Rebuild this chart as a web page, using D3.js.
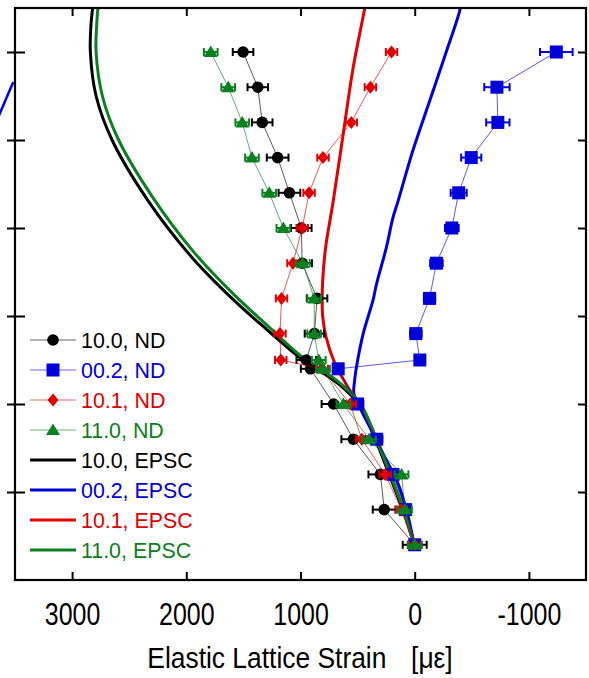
<!DOCTYPE html>
<html><head><meta charset="utf-8">
<script src="https://cdn.jsdelivr.net/npm/d3@7"></script>
<style>body{margin:0;background:#fff}svg{display:block}</style>
</head><body><svg id="c" width="589" height="678"></svg>
<script>
// ---------- DATA ----------
const stressND = [20,40,60,80,100,120,125,140,160,180,200,220,240,260,280,300];
const nd100 = [0,267,300,537,710,912,950,878,855,985,993,1097,1200,1335,1374,1503];
const nd002 = [0,80,190,333,500,670,-45,-10,-130,-190,-325,-385,-495,-728,-720,-1240];
const nd101 = [0,117,258,463,565,810,1173,1180,1166,1066,985,925,803,555,388,203];
const nd110 = [0,86,115,400,625,803,840,880,880,980,1150,1274,1425,1510,1633,1786];
const err100 = [105,100,105,105,105,85,85,85,90,85,90,95,95,90,90,90];
const err002 = [60,50,50,50,50,40,40,50,50,55,60,70,88,102,111,143];
const err101 = [50,50,50,50,50,50,50,50,50,50,50,50,50,50,50,50];
const err110 = [60,60,60,60,60,60,60,60,60,60,60,60,60,60,60,60];

const epsc100 = [[0,19],[95,38],[230,61],[345,80],[480,99],[640,110],[810,118],[1000,126],[1290,142],[1600,160],[1960,184],[2340,216],[2650,250],[2790,275],[2840,300],[2835,315],[2815,328]];
const epsc002 = [[0,19],[73,40],[147,55],[263,70],[394,87],[496,100],[533,106],[525,114],[510,121],[451,140],[365,159],[335,168],[248,189],[190,206],[147,215],[16,244],[-130,272],[-276,300],[-392,323],[-405,328]];
const epsc101 = [[0,19],[88,38],[219,61],[335,80],[466,99],[560,107],[655,117.5],[699,123],[776,138],[806,150],[810,159],[806,170],[780,189],[714,215],[627,253],[539,291],[443,323],[430,328]];
const epsc110 = [[0,19],[88,38],[219,61],[335,80],[466,99],[620,110],[801,119],[1000,127.5],[1280,144],[1580,162],[1930,186],[2300,218],[2600,251],[2735,275],[2790,300],[2785,315],[2770,328]];
// fragment of the neighbouring panel visible at the far left
const neighbour002 = [[3660,261],[3515,283]];

const xTicks = [3000,2000,1000,0,-1000];
const yTicks = [50,100,150,200,250,300];
const legendLabels = ["10.0, ND","00.2, ND","10.1, ND","11.0, ND","10.0, EPSC","00.2, EPSC","10.1, EPSC","11.0, EPSC"];

// ---------- SETUP ----------
const C = {k:"#000000", b:"#0000D8", r:"#E00000", g:"#0A8020"};
const svg = d3.select("#c");
const L=15,R=586,T=8,B=580;
const x = d3.scaleLinear().domain([3500,-1500]).range([L,R]);
const y = d3.scaleLinear().domain([0,325]).range([B,T]);
const FONT = "'Liberation Sans', Arial, sans-serif";

svg.append("defs").append("clipPath").attr("id","clip")
  .append("rect").attr("x",L).attr("y",T).attr("width",R-L).attr("height",B-T);

svg.append("path").datum(neighbour002)
  .attr("d", d3.line().x(d=>x(d[0])).y(d=>y(d[1])))
  .attr("fill","none").attr("stroke",C.b).attr("stroke-width",2.5);

const plot = svg.append("g").attr("clip-path","url(#clip)");
const curve = d3.line().x(d=>x(d[0])).y(d=>y(d[1])).curve(d3.curveCatmullRom.alpha(0.5));
[[epsc100,C.k],[epsc002,C.b],[epsc101,C.r],[epsc110,C.g]].forEach(([d,c])=>{
  plot.append("path").datum(d).attr("d",curve).attr("fill","none")
    .attr("stroke",c).attr("stroke-width",3);
});

const shapes = {
  circle: g=>g.append("circle").attr("r",5.8),
  square: g=>g.append("rect").attr("x",-6.5).attr("y",-6.5).attr("width",13).attr("height",13),
  diamond: g=>g.append("path").attr("d","M0,-6.5L5.5,0L0,6.5L-5.5,0Z"),
  triangle: g=>g.append("path").attr("d","M0,-6.5L7,5L-7,5Z")
};

function series(vals, errs, color, shape){
  const pts = vals.map((v,i)=>[v,stressND[i],errs[i]]);
  const g = plot.append("g");
  g.append("path").datum(pts)
    .attr("d", d3.line().x(d=>x(d[0])).y(d=>y(d[1])))
    .attr("fill","none").attr("stroke",color).attr("stroke-width",1).attr("stroke-opacity",0.65);
  const eb = g.append("g").attr("stroke",color).attr("stroke-width",2);
  pts.forEach(d=>{
    const x1=x(d[0]-d[2]), x2=x(d[0]+d[2]), yy=y(d[1]);
    eb.append("line").attr("x1",x1).attr("x2",x2).attr("y1",yy).attr("y2",yy);
    eb.append("line").attr("x1",x1).attr("x2",x1).attr("y1",yy-4).attr("y2",yy+4);
    eb.append("line").attr("x1",x2).attr("x2",x2).attr("y1",yy-4).attr("y2",yy+4);
  });
  pts.forEach(d=>{
    const m = g.append("g").attr("transform",`translate(${x(d[0])},${y(d[1])})`).attr("fill",color);
    shapes[shape](m);
  });
}
series(nd100, err100, C.k, "circle");
series(nd002, err002, C.b, "square");
series(nd101, err101, C.r, "diamond");
series(nd110, err110, C.g, "triangle");

// ---------- AXES ----------
const gb = svg.append("g").attr("transform",`translate(0,${B})`)
  .call(d3.axisBottom(x).tickValues(xTicks).tickSize(-8).tickPadding(22).tickFormat(d=>String(d)));
gb.select(".domain").remove();
gb.selectAll("line").attr("stroke","#000").attr("stroke-width",2);
gb.selectAll("text").attr("font-family",FONT).attr("font-size",32).attr("fill","#000")
  .attr("transform","scale(0.78,1)").attr("dy","0.71em");

const gt = svg.append("g").attr("transform",`translate(0,${T})`)
  .call(d3.axisTop(x).tickValues(xTicks).tickSize(-8).tickFormat(""));
gt.select(".domain").remove();
gt.selectAll("line").attr("stroke","#000").attr("stroke-width",2);

const gr = svg.append("g").attr("transform",`translate(${R},0)`)
  .call(d3.axisRight(y).tickValues(yTicks).tickSize(-8).tickFormat(""));
gr.select(".domain").remove();
gr.selectAll("line").attr("stroke","#000").attr("stroke-width",2);

const gl = svg.append("g").attr("transform",`translate(${L},0)`)
  .call(d3.axisLeft(y).tickValues(yTicks).tickSize(7).tickFormat(""));
gl.select(".domain").remove();
gl.selectAll("line").attr("x2",10).attr("x1",-8).attr("stroke","#000").attr("stroke-width",2);

svg.append("rect").attr("x",L).attr("y",T).attr("width",R-L).attr("height",B-T)
  .attr("fill","none").attr("stroke","#000").attr("stroke-width",2.2);

// x title
const tt = svg.append("text").attr("transform","translate(300,668) scale(0.88,1)")
  .attr("text-anchor","middle").attr("font-family",FONT).attr("font-size",30).attr("fill","#000");
tt.append("tspan").text("Elastic Lattice Strain");
tt.append("tspan").attr("dx",28).text("[με]");

// ---------- LEGEND ----------
const legColors = [C.k,C.b,C.r,C.g,C.k,C.b,C.r,C.g];
const legShapes = ["circle","square","diamond","triangle",null,null,null,null];
legendLabels.forEach((lab,i)=>{
  const yy = 340 + i*30;
  const g = svg.append("g");
  if(legShapes[i]){
    g.append("line").attr("x1",30).attr("x2",76).attr("y1",yy).attr("y2",yy)
      .attr("stroke",legColors[i]).attr("stroke-width",1).attr("stroke-opacity",0.6);
    const m = g.append("g").attr("transform",`translate(53,${yy})`).attr("fill",legColors[i]);
    shapes[legShapes[i]](m);
  } else {
    g.append("line").attr("x1",30).attr("x2",76).attr("y1",yy).attr("y2",yy)
      .attr("stroke",legColors[i]).attr("stroke-width",3);
  }
  g.append("text").attr("transform",`translate(81,${yy+8}) scale(0.93,1)`)
    .attr("font-family",FONT).attr("font-size",23).attr("fill",legColors[i]).text(lab);
});
</script></body></html>
